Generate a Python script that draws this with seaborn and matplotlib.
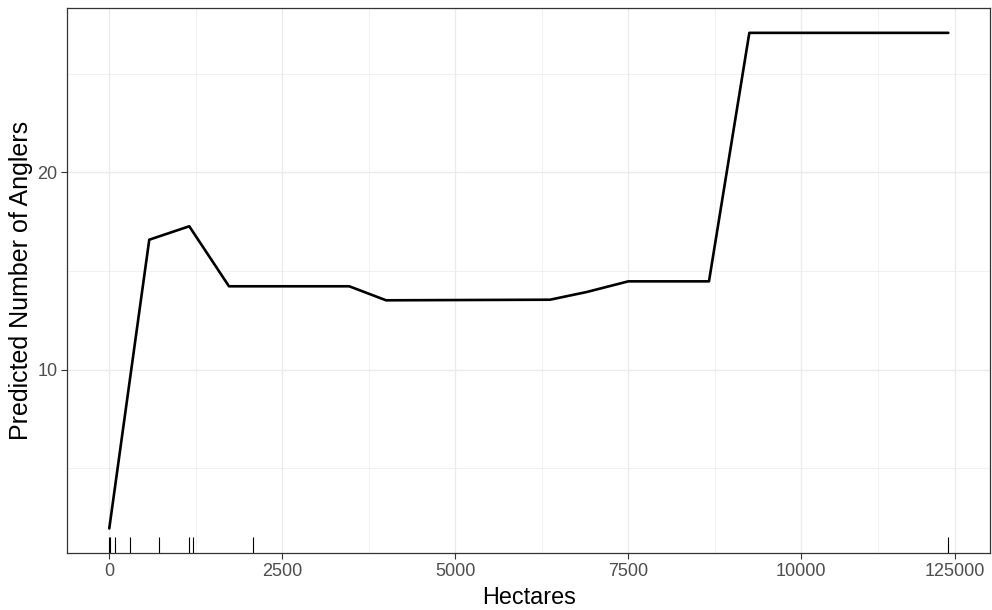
import numpy as np
import pandas as pd
import matplotlib
matplotlib.use("Agg")
import matplotlib.pyplot as plt
import matplotlib.ticker as mticker
import seaborn as sns

# valores (hectares -> número previsto de pescadores)
hectares = [0, 578, 1156, 1730, 3468, 4000, 6369, 6899, 7500, 8666, 9249, 120000]
pescadores = [1.96, 16.59, 17.27, 14.23, 14.23, 13.52, 13.55, 13.94, 14.48, 14.48, 27.07, 27.07]

# posições das observações (rug)
rug_hectares = [0, 15, 87, 295, 723, 1147, 1210, 2072, 120100]

x_ticks = [0, 2500, 5000, 7500, 10000, 125000]
x_labels = ["0", "2500", "5000", "7500", "10000", "125000"]
y_ticks = [10, 20]

# eixo x comprimido acima de 10000 ha
CORTE = 10000
FATOR = 2221 / 115000


def fwd(x):
    x = np.asarray(x, dtype=float)
    return np.where(x <= CORTE, x, CORTE + (x - CORTE) * FATOR)


def inv(t):
    t = np.asarray(t, dtype=float)
    return np.where(t <= CORTE, t, CORTE + (t - CORTE) / FATOR)


sns.set_style("white")
plt.rcParams["font.family"] = ["Liberation Sans", "DejaVu Sans"]

df = pd.DataFrame({"Hectares": hectares, "Anglers": pescadores})

fig = plt.figure(figsize=(9.92, 6.10), dpi=100)
ax = fig.add_axes([0.0678, 0.0929, 0.9302, 0.894])
ax.set_xscale("function", functions=(fwd, inv))

sns.lineplot(data=df, x="Hectares", y="Anglers", ax=ax, color="black", linewidth=1.9)
sns.rugplot(x=rug_hectares, ax=ax, height=0.03, color="black", linewidth=0.8)

ax.set_xlim(-607, 151200)
ax.set_ylim(0.70, 28.33)

# grade principal e secundária (estilo theme_bw)
ax.xaxis.set_major_locator(mticker.FixedLocator(x_ticks))
ax.xaxis.set_major_formatter(mticker.FixedFormatter(x_labels))
t_major = fwd(x_ticks)
x_minor = inv((t_major[:-1] + t_major[1:]) / 2)
ax.xaxis.set_minor_locator(mticker.FixedLocator(list(x_minor)))
ax.yaxis.set_major_locator(mticker.FixedLocator(y_ticks))
ax.yaxis.set_minor_locator(mticker.FixedLocator([5, 15, 25]))

ax.grid(which="major", color="#EBEBEB", linewidth=1.0)
ax.grid(which="minor", color="#EBEBEB", linewidth=0.5)
ax.set_axisbelow(True)

ax.tick_params(which="major", length=4, width=0.8, color="#333333",
               labelsize=13, labelcolor="#4D4D4D", pad=3,
               bottom=True, left=True)
ax.tick_params(which="minor", length=0, bottom=False, left=False)

for s in ax.spines.values():
    s.set_color("#333333")
    s.set_linewidth(0.9)

ax.set_xlabel("Hectares", fontsize=16.8, color="black", labelpad=4)
ax.set_ylabel("Predicted Number of Anglers", fontsize=18, color="black", labelpad=3)

fig.savefig("out.png", dpi=100)
